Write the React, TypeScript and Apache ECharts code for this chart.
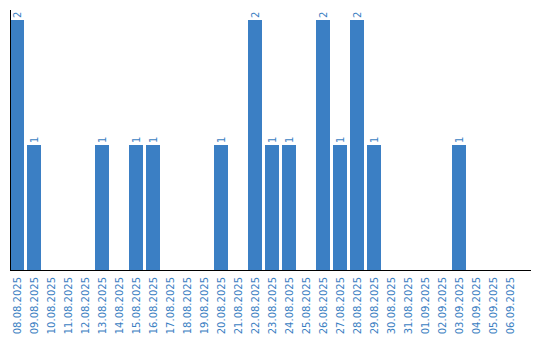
import React, { useEffect, useRef } from "react";
import * as echarts from "echarts";

const categories = [
  "08.08.2025", "09.08.2025", "10.08.2025", "11.08.2025", "12.08.2025",
  "13.08.2025", "14.08.2025", "15.08.2025", "16.08.2025", "17.08.2025",
  "18.08.2025", "19.08.2025", "20.08.2025", "21.08.2025", "22.08.2025",
  "23.08.2025", "24.08.2025", "25.08.2025", "26.08.2025", "27.08.2025",
  "28.08.2025", "29.08.2025", "30.08.2025", "31.08.2025", "01.09.2025",
  "02.09.2025", "03.09.2025", "04.09.2025", "05.09.2025", "06.09.2025",
];

const values = [
  2, 1, 0, 0, 0, 1, 0, 1, 1, 0,
  0, 0, 1, 0, 2, 1, 1, 0, 2, 1,
  2, 1, 0, 0, 0, 0, 1, 0, 0, 0,
];

const BLUE = "#3b7fc4";
const TEXT_BLUE = "#3a7ec2";

export default function App() {
  const ref = useRef<HTMLDivElement>(null);
  useEffect(() => {
    if (!ref.current) return;
    const chart = echarts.init(ref.current, null, { renderer: "svg" });
    chart.setOption({
      animation: false,
      grid: { left: 8.5, right: 21.5, top: 10, bottom: 70, containLabel: false },
      xAxis: {
        type: "category",
        data: categories,
        boundaryGap: true,
        axisLine: { show: false },
        axisTick: { show: false },
        axisLabel: {
          rotate: 90,
          interval: 0,
          margin: 7,
          fontSize: 10,
          fontFamily: "DejaVu Sans",
          color: TEXT_BLUE,
        },
      },
      yAxis: {
        type: "value",
        min: 0,
        max: 2.08,
        axisLine: { show: false },
        axisTick: { show: false },
        axisLabel: { show: false },
        splitLine: { show: false },
      },
      series: [
        {
          type: "bar",
          data: values.map((v) => ({
            value: v,
            label: { show: v > 0 },
          })),
          barWidth: 14,
          itemStyle: { color: BLUE },
          label: {
            show: true,
            position: "top",
            rotate: 90,
            align: "left",
            verticalAlign: "middle",
            distance: 2,
            fontSize: 10,
            fontFamily: "DejaVu Sans",
            color: TEXT_BLUE,
          },
        },
      ],
      graphic: [
        {
          type: "line",
          shape: { x1: 10.5, y1: 10, x2: 10.5, y2: 270 },
          style: { stroke: "#000", lineWidth: 1 },
          z: 10,
        },
        {
          type: "line",
          shape: { x1: 10, y1: 270.5, x2: 531, y2: 270.5 },
          style: { stroke: "#000", lineWidth: 1 },
          z: 10,
        },
      ],
    });
    return () => chart.dispose();
  }, []);
  return (
    <div
      ref={ref}
      style={{ position: "absolute", left: 0, top: 0, width: 540, height: 340 }}
    />
  );
}
